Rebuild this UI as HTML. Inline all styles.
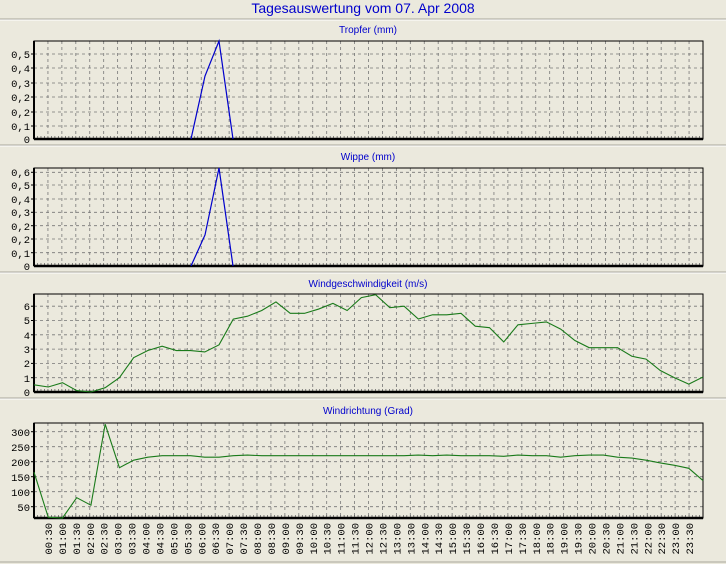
<!DOCTYPE html>
<html><head><meta charset="utf-8"><style>
html,body{margin:0;padding:0;background:#ebe9dd;}
svg{display:block;font-family:"Liberation Sans",sans-serif;}
.t{fill:#0000cc;font-size:10px;text-anchor:middle}
.yl{font-family:"Liberation Mono",monospace;font-size:10.5px;fill:#000;text-anchor:end}
.xl{font-family:"Liberation Mono",monospace;font-size:10.5px;fill:#000;text-anchor:end}
</style></head><body>
<svg id="s" width="726" height="564" viewBox="0 0 726 564" xmlns="http://www.w3.org/2000/svg">
<rect width="726" height="564" fill="#ebe9dd"/>
<text x="363" y="13" style="fill:#0000cc;font-size:14px;text-anchor:middle">Tagesauswertung vom 07. Apr 2008</text>
<g id="seps"></g>
<text class="t" x="368" y="33">Tropfer (mm)</text>
<text class="t" x="368" y="160">Wippe (mm)</text>
<text class="t" x="368" y="287">Windgeschwindigkeit (m/s)</text>
<text class="t" x="368" y="414">Windrichtung (Grad)</text>
<g id="grid"></g>
<g class="yl">
<text x="30" y="143">0</text><text x="30" y="130">0,1</text><text x="30" y="116">0,2</text><text x="30" y="101">0,2</text><text x="30" y="87">0,3</text><text x="30" y="72">0,4</text><text x="30" y="58">0,5</text>
<text x="30" y="270">0</text><text x="30" y="257">0,1</text><text x="30" y="243">0,2</text><text x="30" y="230">0,2</text><text x="30" y="216">0,3</text><text x="30" y="203">0,4</text><text x="30" y="189">0,5</text><text x="30" y="176">0,6</text>
<text x="30" y="396">0</text><text x="30" y="382">1</text><text x="30" y="367">2</text><text x="30" y="353">3</text><text x="30" y="339">4</text><text x="30" y="324">5</text><text x="30" y="310">6</text>
<text x="30" y="511">50</text><text x="30" y="496">100</text><text x="30" y="481">150</text><text x="30" y="466">200</text><text x="30" y="451">250</text><text x="30" y="436">300</text>
</g>
<g class="xl">
<text transform="translate(51.9 523) rotate(-90)">00:30</text>
<text transform="translate(65.9 523) rotate(-90)">01:00</text>
<text transform="translate(79.8 523) rotate(-90)">01:30</text>
<text transform="translate(93.8 523) rotate(-90)">02:00</text>
<text transform="translate(107.7 523) rotate(-90)">02:30</text>
<text transform="translate(121.6 523) rotate(-90)">03:00</text>
<text transform="translate(135.6 523) rotate(-90)">03:30</text>
<text transform="translate(149.5 523) rotate(-90)">04:00</text>
<text transform="translate(163.4 523) rotate(-90)">04:30</text>
<text transform="translate(177.4 523) rotate(-90)">05:00</text>
<text transform="translate(191.3 523) rotate(-90)">05:30</text>
<text transform="translate(205.3 523) rotate(-90)">06:00</text>
<text transform="translate(219.2 523) rotate(-90)">06:30</text>
<text transform="translate(233.1 523) rotate(-90)">07:00</text>
<text transform="translate(247.1 523) rotate(-90)">07:30</text>
<text transform="translate(261 523) rotate(-90)">08:00</text>
<text transform="translate(274.9 523) rotate(-90)">08:30</text>
<text transform="translate(288.9 523) rotate(-90)">09:00</text>
<text transform="translate(302.8 523) rotate(-90)">09:30</text>
<text transform="translate(316.8 523) rotate(-90)">10:00</text>
<text transform="translate(330.7 523) rotate(-90)">10:30</text>
<text transform="translate(344.6 523) rotate(-90)">11:00</text>
<text transform="translate(358.6 523) rotate(-90)">11:30</text>
<text transform="translate(372.5 523) rotate(-90)">12:00</text>
<text transform="translate(386.4 523) rotate(-90)">12:30</text>
<text transform="translate(400.4 523) rotate(-90)">13:00</text>
<text transform="translate(414.3 523) rotate(-90)">13:30</text>
<text transform="translate(428.3 523) rotate(-90)">14:00</text>
<text transform="translate(442.2 523) rotate(-90)">14:30</text>
<text transform="translate(456.1 523) rotate(-90)">15:00</text>
<text transform="translate(470.1 523) rotate(-90)">15:30</text>
<text transform="translate(484 523) rotate(-90)">16:00</text>
<text transform="translate(497.9 523) rotate(-90)">16:30</text>
<text transform="translate(511.9 523) rotate(-90)">17:00</text>
<text transform="translate(525.8 523) rotate(-90)">17:30</text>
<text transform="translate(539.8 523) rotate(-90)">18:00</text>
<text transform="translate(553.7 523) rotate(-90)">18:30</text>
<text transform="translate(567.6 523) rotate(-90)">19:00</text>
<text transform="translate(581.6 523) rotate(-90)">19:30</text>
<text transform="translate(595.5 523) rotate(-90)">20:00</text>
<text transform="translate(609.4 523) rotate(-90)">20:30</text>
<text transform="translate(623.4 523) rotate(-90)">21:00</text>
<text transform="translate(637.3 523) rotate(-90)">21:30</text>
<text transform="translate(651.3 523) rotate(-90)">22:00</text>
<text transform="translate(665.2 523) rotate(-90)">22:30</text>
<text transform="translate(679.1 523) rotate(-90)">23:00</text>
<text transform="translate(693.1 523) rotate(-90)">23:30</text>
</g>
<g id="data"></g>
</svg>
<script>
var NS="http://www.w3.org/2000/svg";
function el(p,t,a){var e=document.createElementNS(NS,t);for(var k in a)e.setAttribute(k,a[k]);p.appendChild(e);return e;}
var seps=document.getElementById('seps');
[19,145,272,398].forEach(function(y){el(seps,'line',{x1:0,x2:726,y1:y,y2:y,stroke:'#a8a79c','stroke-width':1});el(seps,'line',{x1:0,x2:726,y1:y+1,y2:y+1,stroke:'#fff','stroke-width':1});});
el(seps,'line',{x1:0,x2:726,y1:562,y2:562,stroke:'#a8a79c'});
var g=document.getElementById('grid');
var L=34,R=703,S=(R-L)/48;
var panels=[{t:41,b:139,h:[126,112,97,83,68,54]},{t:168,b:266,h:[252.7,239,225.7,212.3,199,185,172.3]},{t:294,b:392,h:[377.7,363.4,349.1,334.8,320.5,306.2]},{t:423,b:518,h:[506.7,491.7,476.7,461.7,446.7,431.7]}];
panels.forEach(function(p){
  for(var i=1;i<48;i++){var x=L+i*S;el(g,'line',{x1:x,x2:x,y1:p.t,y2:p.b,stroke:'#777','stroke-dasharray':'3,3','stroke-width':0.8});}
  p.h.forEach(function(y){el(g,'line',{x1:L,x2:R,y1:y,y2:y,stroke:'#777','stroke-dasharray':'3,3','stroke-width':0.8});});
  for(var i=0;i<=48*4;i++){var x=L+i*S/4;el(g,'line',{x1:x,x2:x,y1:p.b-3,y2:p.b,stroke:'#555','stroke-width':0.7});}
  for(i=0;i<p.h.length;i++){el(g,'line',{x1:L-3,x2:L,y1:p.h[i],y2:p.h[i],stroke:'#000'});}
  el(g,'rect',{x:L,y:p.t,width:R-L,height:p.b-p.t,fill:'none',stroke:'#000','stroke-width':1});
  el(g,'line',{x1:L,x2:R,y1:p.b,y2:p.b,stroke:'#000','stroke-width':2.5});
  el(g,'line',{x1:L,x2:L,y1:p.t,y2:p.b,stroke:'#000','stroke-width':2});
});
var d=document.getElementById('data');
el(d,'polyline',{points:'191,139 205,76 219,41 233,139',fill:'none',stroke:'#0000cc','stroke-width':1.2});
el(d,'polyline',{points:'191,266 205,235 219,168 233,266',fill:'none',stroke:'#0000cc','stroke-width':1.2});
var ws=[0.5,0.35,0.65,0.1,0,0.3,1.0,2.4,2.9,3.2,2.9,2.9,2.8,3.3,5.1,5.3,5.7,6.3,5.5,5.5,5.8,6.2,5.7,6.6,6.8,5.9,6.0,5.1,5.4,5.4,5.5,4.6,4.5,3.5,4.7,4.8,4.9,4.4,3.6,3.1,3.1,3.1,2.5,2.3,1.5,1.0,0.55,1.05];
var wd=[165,15,10,80,55,325,180,205,215,220,220,220,215,215,220,222,220,220,220,220,220,220,220,220,220,220,220,222,220,222,220,220,220,218,222,220,220,215,220,222,222,215,212,205,196,188,178,137];
var SP=(R-L)/47;
el(d,'polyline',{points:ws.map(function(v,i){return (L+i*SP)+','+(392-v*14.3);}).join(' '),fill:'none',stroke:'#1a7a1a','stroke-width':1.1});
el(d,'polyline',{points:wd.map(function(v,i){return (L+i*SP)+','+Math.min(518,521.7-v*0.3);}).join(' '),fill:'none',stroke:'#1a7a1a','stroke-width':1.1});
</script>
</body></html>
